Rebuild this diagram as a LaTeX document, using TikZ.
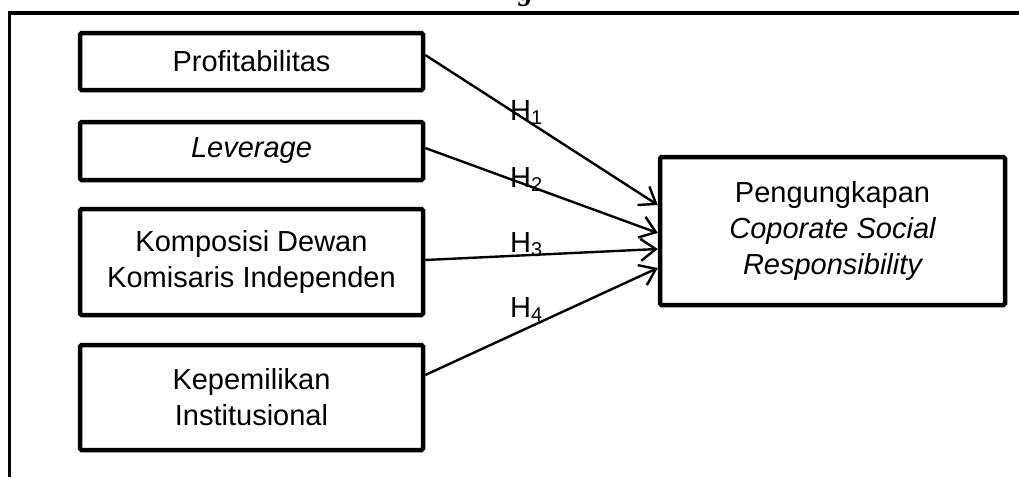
\documentclass[tikz,border=0pt]{standalone}
\usepackage{fontspec}
\setmainfont{Liberation Sans}
\newfontfamily\capserif{Liberation Serif}
\usetikzlibrary{arrows.meta}
\tikzset{
  varbox/.style={draw, line width=4.5pt, rounded corners=1.5pt, align=center, inner sep=0pt,
    font=\fontsize{29}{36}\selectfont},
  link/.style={line width=2.4pt, -{Straight Barb[length=15pt,width=22pt,line width=2.4pt]}},
  hlabel/.style={inner sep=0pt, anchor=base west, font=\fontsize{29}{36}\selectfont},
  frame/.style={line width=3.5pt}
}
\newcommand{\hsub}[1]{H\raisebox{-4pt}{\fontsize{20}{20}\selectfont #1}}
\begin{document}
\begin{tikzpicture}[x=1pt,y=-1pt]
\useasboundingbox (0,0) rectangle (1019,477);
% cut caption above
\node[inner sep=0pt, anchor=base, font=\fontsize{29}{29}\capserif\bfseries\itshape] (cap) at (526,0) {g};
% frame
\coordinate (fbl) at (9.5,477);
\coordinate (ftr) at (1019,13);
\draw[frame] (fbl) |- (ftr);
% boxes
\node[varbox, minimum width=343pt, minimum height=57pt] (b1) at (251.5,61.5) {Profitabilitas};
\node[varbox, minimum width=343pt, minimum height=58pt] (b2) at (251.5,151) {\itshape Leverage};
\node[varbox, minimum width=343pt, minimum height=106pt] (b3) at (251.5,262) {Komposisi Dewan\\Komisaris Independen};
\node[varbox, minimum width=343pt, minimum height=105pt] (b4) at (251.5,397.5) {Kepemilikan\\Institusional};
\node[varbox, minimum width=345pt, minimum height=148pt] (y) at (832.5,231) {Pengungkapan\\\itshape Coporate Social\\\itshape Responsibility};
% arrows
\draw[link] ([yshift=6.5pt]b1.east) -- ([yshift=26pt]y.west);
\draw[link] ([yshift=3pt]b2.east) -- ([yshift=-2pt]y.west);
\draw[link] ([yshift=2pt]b3.east) -- ([yshift=-18pt]y.west);
\draw[link] ([yshift=22.5pt]b4.east) -- ([yshift=-37pt]y.west);
% labels
\node[hlabel] (h1) at (510,120) {\hsub{1}};
\node[hlabel] (h2) at (510,187) {\hsub{2}};
\node[hlabel] (h3) at (510,252) {\hsub{3}};
\node[hlabel] (h4) at (510,317) {\hsub{4}};
\end{tikzpicture}
\end{document}
